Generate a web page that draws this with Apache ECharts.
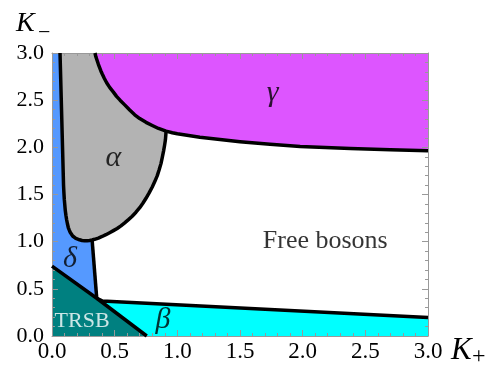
<!DOCTYPE html>
<html><head><meta charset="utf-8">
<script src="https://cdn.jsdelivr.net/npm/echarts@6/dist/echarts.min.js"></script>
<style>html,body{margin:0;padding:0;background:#fff}#c{width:494px;height:366px}</style>
</head><body><div id="c"></div>
<script>
// Phase boundaries, [K+, K-]
const alphaLeft = [[0.064,3.0],[0.066,2.9],[0.068,2.8],[0.070,2.7],[0.072,2.6],[0.074,2.5],[0.076,2.4],[0.078,2.3],[0.080,2.2],[0.082,2.1],[0.084,2.0],[0.086,1.9],[0.088,1.8],[0.090,1.7],[0.092,1.6],[0.095,1.52],[0.098,1.45],[0.102,1.39],[0.106,1.33],[0.111,1.28],[0.117,1.23],[0.123,1.19],[0.130,1.15],[0.137,1.125],[0.145,1.10],[0.155,1.08],[0.165,1.06],[0.177,1.046],[0.19,1.035],[0.205,1.026],[0.22,1.02],[0.24,1.013],[0.26,1.01]];
const alphaRight = [[0.26,1.01],[0.28,1.01],[0.30,1.012],[0.32,1.018],[0.34,1.025],[0.37,1.038],[0.40,1.055],[0.43,1.074],[0.46,1.095],[0.49,1.117],[0.52,1.14],[0.55,1.168],[0.58,1.20],[0.61,1.234],[0.64,1.27],[0.67,1.312],[0.70,1.36],[0.725,1.407],[0.75,1.46],[0.775,1.517],[0.80,1.58],[0.82,1.637],[0.84,1.70],[0.855,1.762],[0.87,1.83],[0.88,1.894],[0.89,1.96],[0.898,2.02],[0.905,2.08],[0.908,2.13],[0.91,2.17]];
const gammaBoundary = [[0.343,3.0],[0.35,2.96],[0.36,2.92],[0.37,2.88],[0.38,2.845],[0.39,2.81],[0.40,2.78],[0.418,2.73],[0.436,2.685],[0.46,2.635],[0.49,2.585],[0.515,2.54],[0.543,2.50],[0.58,2.45],[0.62,2.395],[0.66,2.345],[0.70,2.305],[0.75,2.265],[0.80,2.232],[0.85,2.2],[0.91,2.172],[0.96,2.155],[1.0,2.144],[1.09,2.125],[1.18,2.108],[1.34,2.083],[1.5,2.06],[1.74,2.032],[1.98,2.01],[2.18,1.998],[2.38,1.988],[2.7,1.975],[3.0,1.965]];
const deltaRight = [[0.32,1.02],[0.357,0.40]];
const trsbLine = [[0,0.74],[0.357,0.40],[0.756,0]];
const betaTop = [[0.357,0.40],[0.40,0.372],[3.0,0.196]];
const regionLabels = [["γ",1.76,2.57],["α",0.49,1.89],["δ",0.144,0.81],["β",0.886,0.17],["TRSB",0.24,0.16],["Free bosons",2.18,1.0]];
const axisMin = 0, axisMax = 3, tickStep = 0.5;

const gammaPoly = gammaBoundary.concat([[3,3]]);
const alphaPoly = alphaLeft.concat(alphaRight.slice(1), gammaBoundary.filter(p => p[0] < 0.91).reverse());
const deltaPoly = [[0,3]].concat(alphaLeft, deltaRight, [[0,0.74]]);
const trsbPoly = [[0,0]].concat(trsbLine);
const betaPoly = [[0.756,0]].concat(betaTop, [[3,0]]);

function poly(points, color) {
  return {
    type: 'custom', z: -1, silent: true, data: [0],
    renderItem: (params, api) => ({
      type: 'polygon',
      shape: { points: points.map(p => api.coord(p)) },
      style: { fill: color }
    })
  };
}
function line(points) {
  return {
    type: 'line', data: points, showSymbol: false, z: 3, silent: true, clip: true,
    lineStyle: { color: '#000', width: 3.5, cap: 'butt', join: 'round' }
  };
}
const serif = 'Liberation Serif';
const axisCommon = {
  type: 'value', min: axisMin, max: axisMax, interval: tickStep,
  axisLine: { show: true, onZero: false, lineStyle: { color: '#999', width: 1 } },
  axisTick: { show: true, inside: true, length: 6, lineStyle: { color: '#999' } },
  minorTick: { show: true, splitNumber: 5, length: 3, lineStyle: { color: '#999' } },
  splitLine: { show: false }
};
const chart = echarts.init(document.getElementById('c'));
chart.setOption({
  animation: false,
  grid: { left: 52, right: 66, top: 53, bottom: 30 },
  xAxis: [
    Object.assign({}, axisCommon, { position: 'bottom',
      axisLabel: { formatter: v => v.toFixed(1), fontFamily: serif, fontSize: 23, color: '#000', margin: 4 } }),
    Object.assign({}, axisCommon, { position: 'top', axisLabel: { show: false } })
  ],
  yAxis: [
    Object.assign({}, axisCommon, { position: 'left',
      axisLabel: { formatter: v => v.toFixed(1), fontFamily: serif, fontSize: 22, color: '#000', margin: 8 } }),
    Object.assign({}, axisCommon, { position: 'right', axisLabel: { show: false } })
  ],
  graphic: [
    { type: 'text', x: 16, y: 24, style: { text: 'K', font: 'italic 28px "Liberation Serif"', fill: '#000', verticalAlign: 'middle' } },
    { type: 'text', x: 38, y: 33, style: { text: '−', font: '22px "Liberation Serif"', fill: '#000', verticalAlign: 'middle' } },
    { type: 'text', x: 451, y: 351, style: { text: 'K', font: 'italic 31px "Liberation Serif"', fill: '#000', verticalAlign: 'middle' } },
    { type: 'text', x: 472, y: 357, style: { text: '+', font: '24px "Liberation Serif"', fill: '#000', verticalAlign: 'middle' } }
  ],
  series: [
    poly(gammaPoly, '#DD55FF'),
    poly(alphaPoly, '#B3B3B3'),
    poly(deltaPoly, '#5599FF'),
    poly(trsbPoly, '#008080'),
    poly(betaPoly, '#00FFFF'),
    line(alphaLeft.concat(alphaRight.slice(1))),
    line(gammaBoundary),
    line(deltaRight),
    line(trsbLine),
    line(betaTop),
    {
      type: 'scatter', symbolSize: 0, z: 4, silent: true,
      data: regionLabels.map(r => {
        const plain = r[0].length > 1;
        return {
          value: [r[1], r[2]], name: r[0],
          label: plain ? { fontStyle: 'normal', fontSize: r[0] === 'TRSB' ? 22 : 26, color: r[0] === 'TRSB' ? '#fff' : '#000' } : {}
        };
      }),
      label: { show: true, position: 'inside', formatter: '{b}', fontFamily: serif, fontStyle: 'italic', fontSize: 30, color: '#000' }
    }
  ]
});
</script>
</body></html>
